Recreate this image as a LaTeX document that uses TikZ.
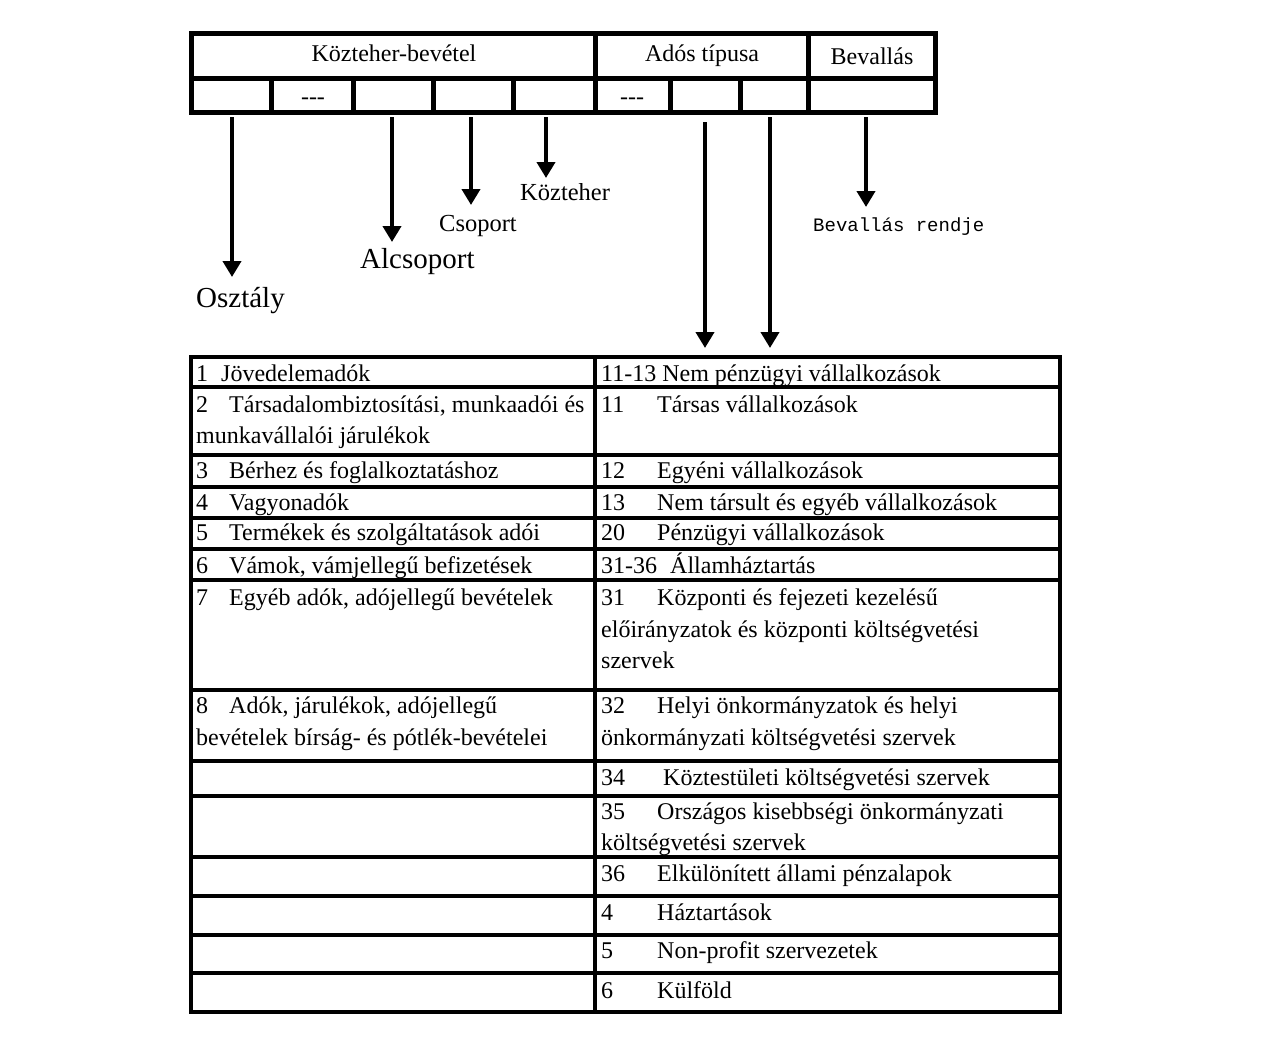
\documentclass[tikz,border=0pt]{standalone}
\usepackage{fontspec}
\setmainfont{Liberation Serif}
\newfontfamily\monof{Liberation Mono}
\usetikzlibrary{arrows.meta}
\begin{document}
\begin{tikzpicture}[x=1pt,y=-1pt,
  tx/.style={anchor=base west,inner sep=0pt,font=\fontsize{24}{28}\selectfont},
  hd/.style={anchor=base,inner sep=0pt,font=\fontsize{24}{28}\selectfont},
  big/.style={anchor=base west,inner sep=0pt,font=\fontsize{29}{34}\selectfont},
  mid/.style={anchor=base west,inner sep=0pt,font=\fontsize{24.5}{30}\selectfont},
  mono/.style={anchor=base west,inner sep=0pt,font=\monof\fontsize{19}{22}\selectfont},
  arr/.style={line width=4pt,-{Triangle[width=18pt,length=16pt]}},
  tgrid/.style={line width=5pt},
  lgrid/.style={line width=3.2pt}]
\useasboundingbox[fill=white] (0,0) rectangle (1269,1057);
% top table
\draw[tgrid] (191,34) rectangle (935,112);
\draw[tgrid] (191,79) -- (935,79);
\draw[tgrid] (595,34) -- (595,112);
\draw[tgrid] (808,34) -- (808,112);
\foreach \x in {271,353,433,513,670,740} \draw[tgrid] (\x,79) -- (\x,112);
\node[hd] (h1) at (394,62) {Közteher-bevétel};
\node[hd] (h2) at (702,62) {Adós típusa};
\node[hd] (h3) at (872,65) {Bevallás};
\node[hd] (d1) at (313,104) {{-}{-}{-}};
\node[hd] (d2) at (632,104) {{-}{-}{-}};
% arrows and labels
\coordinate (s1) at (232,117); \coordinate (e1) at (232,277);
\coordinate (s2) at (392,117); \coordinate (e2) at (392,242);
\coordinate (s3) at (471,117); \coordinate (e3) at (471,205);
\coordinate (s4) at (546,117); \coordinate (e4) at (546,178);
\coordinate (s5) at (705,122); \coordinate (e5) at (705,348);
\coordinate (s6) at (770,117); \coordinate (e6) at (770,348);
\coordinate (s7) at (866,117); \coordinate (e7) at (866,207);
\foreach \i in {1,...,7} \draw[arr] (s\i) -- (e\i);
\node[big] (osz) at (196,307) {Osztály};
\node[big] (alc) at (360,268) {Alcsoport};
\node[mid] (cso) at (439,231) {Csoport};
\node[mid] (kozt) at (520,200) {Közteher};
\node[mono] (bev) at (813,231) {Bevallás rendje};
% lower table
\draw[lgrid] (191,357) rectangle (1060,1012);
\draw[lgrid] (595,357) -- (595,1012);
\foreach \y in {387,455,487,518,549,580,690,761,796,857,896,935,973} \draw[lgrid] (191,\y) -- (1060,\y);
% left column
\node[tx] (l1) at (196,381) {\makebox[25pt][l]{1}Jövedelemadók};
\node[tx] (l2a) at (196,412) {\makebox[33pt][l]{2}Társadalombiztosítási, munkaadói és};
\node[tx] (l2b) at (196,443) {munkavállalói járulékok};
\node[tx] (l3) at (196,478) {\makebox[33pt][l]{3}Bérhez és foglalkoztatáshoz};
\node[tx] (l4) at (196,510) {\makebox[33pt][l]{4}Vagyonadók};
\node[tx] (l5) at (196,540) {\makebox[33pt][l]{5}Termékek és szolgáltatások adói};
\node[tx] (l6) at (196,573) {\makebox[33pt][l]{6}Vámok, vámjellegű befizetések};
\node[tx] (l7) at (196,605) {\makebox[33pt][l]{7}Egyéb adók, adójellegű bevételek};
\node[tx] (l8a) at (196,713) {\makebox[33pt][l]{8}Adók, járulékok, adójellegű};
\node[tx] (l8b) at (196,745) {bevételek bírság- és pótlék-bevételei};
% right column
\node[tx] (r1) at (601,381) {11-13 Nem pénzügyi vállalkozások};
\node[tx] (r2) at (601,412) {\makebox[56pt][l]{11}Társas vállalkozások};
\node[tx] (r3) at (601,478) {\makebox[56pt][l]{12}Egyéni vállalkozások};
\node[tx] (r4) at (601,510) {\makebox[56pt][l]{13}Nem társult és egyéb vállalkozások};
\node[tx] (r5) at (601,540) {\makebox[56pt][l]{20}Pénzügyi vállalkozások};
\node[tx] (r6) at (601,573) {\makebox[69pt][l]{31-36}Államháztartás};
\node[tx] (r7a) at (601,605) {\makebox[56pt][l]{31}Központi és fejezeti kezelésű};
\node[tx] (r7b) at (601,637) {előirányzatok és központi költségvetési};
\node[tx] (r7c) at (601,668) {szervek};
\node[tx] (r8a) at (601,713) {\makebox[56pt][l]{32}Helyi önkormányzatok és helyi};
\node[tx] (r8b) at (601,745) {önkormányzati költségvetési szervek};
\node[tx] (r9) at (601,785) {\makebox[62pt][l]{34}Köztestületi költségvetési szervek};
\node[tx] (r10a) at (601,819) {\makebox[56pt][l]{35}Országos kisebbségi önkormányzati};
\node[tx] (r10b) at (601,850) {költségvetési szervek};
\node[tx] (r11) at (601,881) {\makebox[56pt][l]{36}Elkülönített állami pénzalapok};
\node[tx] (r12) at (601,920) {\makebox[56pt][l]{4}Háztartások};
\node[tx] (r13) at (601,958) {\makebox[56pt][l]{5}Non-profit szervezetek};
\node[tx] (r14) at (601,998) {\makebox[56pt][l]{6}Külföld};
\end{tikzpicture}
\end{document}
